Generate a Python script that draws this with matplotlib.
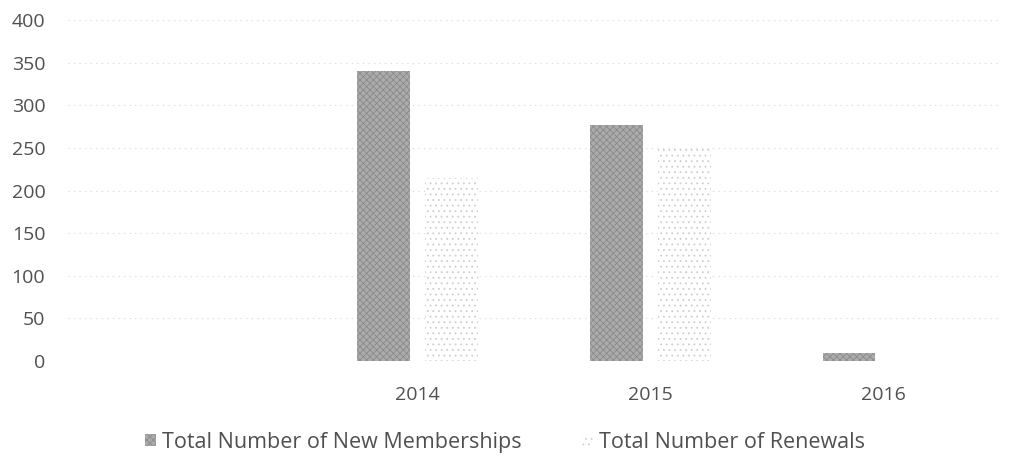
import matplotlib
matplotlib.use('Agg')
import matplotlib.pyplot as plt
import numpy as np

# Chart data
years = ['', '2014', '2015', '2016']
new_memberships = [0, 340, 277, 9]
renewals = [0, 215, 249, 0]

plt.rcParams['font.family'] = ['Open Sans', 'DejaVu Sans']
plt.rcParams['hatch.linewidth'] = 0.6
text_color = '#505050'

fig = plt.figure(figsize=(10.18, 4.59), dpi=100)
ax = fig.add_axes([0.067, 0.2135, 0.915, 0.7425])

x = np.arange(len(years))
width = 0.225
offset = 0.146

ax.bar(x - offset, new_memberships, width, color='#ababab', edgecolor='#8a8a8a',
       hatch='xxxxx', linewidth=0, label='Total Number of New Memberships', zorder=3)
ax.bar(x + offset, renewals, width, color='white', edgecolor='#cfcfcf',
       hatch='...', linewidth=0, label='Total Number of Renewals', zorder=3)

ax.set_xlim(-0.5, len(years) - 0.5)
ax.set_ylim(0, 400)
ax.set_yticks(range(0, 401, 50))
ax.set_xticks(x)
ax.set_xticklabels(years)

# faint dotted gridlines
ax.yaxis.grid(True, linestyle=(0, (1, 4)), color='#d6d6d6', linewidth=0.8, zorder=0)
ax.set_axisbelow(True)
for s in ax.spines.values():
    s.set_visible(False)
ax.tick_params(axis='both', length=0, labelsize=14, colors=text_color)
ax.tick_params(axis='y', pad=16.5)
ax.tick_params(axis='x', pad=18)

leg = fig.legend(loc='center', bbox_to_anchor=(0.496, 0.037), ncol=2, frameon=False,
                 fontsize=15.5, labelcolor=text_color, handlelength=0.5, handleheight=0.5,
                 handletextpad=0.3, columnspacing=2.8)

fig.savefig('out.png', dpi=100)
